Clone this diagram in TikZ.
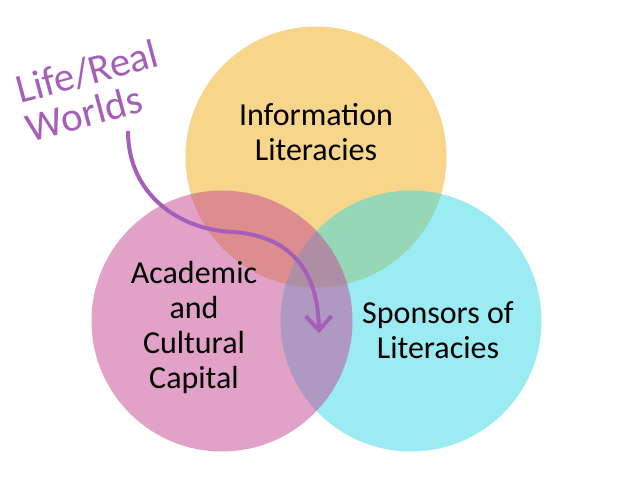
\documentclass[tikz,border=0pt]{standalone}
\usepackage{fontspec}
\setmainfont{Carlito}
\usetikzlibrary{arrows.meta,positioning}
\definecolor{vnorange}{RGB}{239,173,25}
\definecolor{vnpink}{RGB}{197,69,145}
\definecolor{vncyan}{RGB}{55,217,229}
\definecolor{vnpurple}{RGB}{165,95,185}

\begin{document}
\begin{tikzpicture}[x=1pt,y=-1pt,
  venn/.style={circle,minimum size=261pt,inner sep=0pt,fill opacity=0.5},
  label/.style={font=\fontsize{32}{35}\selectfont,align=center,text=black},
  world/.style={font=\fontsize{41}{40}\selectfont,align=left,text=vnpurple,
    rotate=15,inner sep=0pt,anchor=north west},
  flow/.style={vnpurple,line width=4pt,-{Straight Barb[length=14pt,width=26pt]}}
]
  \useasboundingbox (0,0) rectangle (638,479);
  % Venn circles
  \node[venn,fill=vnorange] (topc) at (316,157) {};
  \node[venn,fill=vncyan] (rightc) at (411,321) {};
  \node[venn,fill=vnpink] (leftc) at (222,321) {};
  % circle labels
  \node[label] (info) at (316,132) {Information\\Literacies};
  \node[label] (acad) at (194,327) {Academic\\and\\Cultural\\Capital};
  \node[label] (spons) at (438,330) {Sponsors of\\Literacies};
  % Life/Real Worlds
  \node[world] (life) at (13,76) {Life/Real\\Worlds};
  \coordinate (from) at (128,131);
  \coordinate (core) at (319,333);
  \draw[flow] (from) .. controls (128,195) and (180,230) .. (233,232)
    .. controls (290,236) and (318,270) .. (core);
\end{tikzpicture}
\end{document}
